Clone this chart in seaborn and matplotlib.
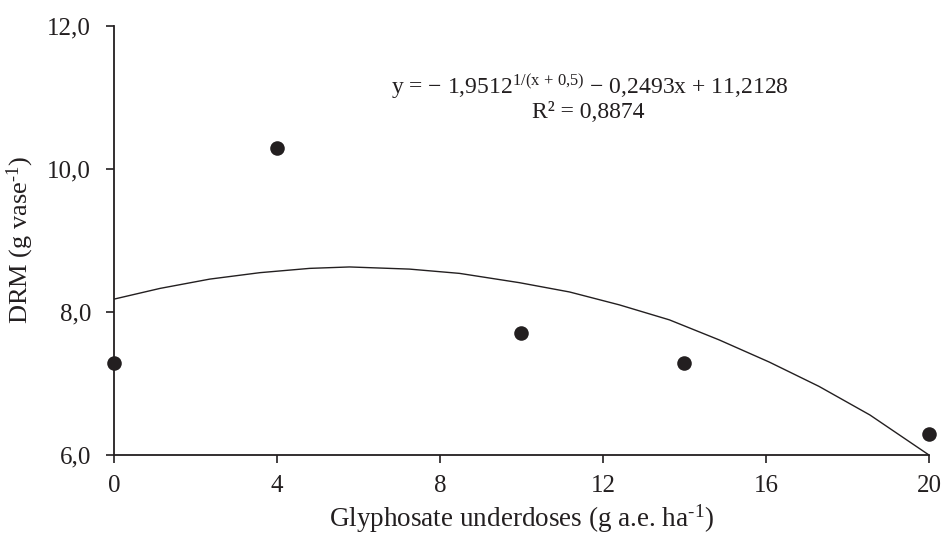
import numpy as np
import pandas as pd
import matplotlib
matplotlib.use("Agg")
import matplotlib.pyplot as plt
import seaborn as sns
from matplotlib.ticker import FuncFormatter

# Observed data
doses = [0, 4, 10, 14, 20]
drm = [7.28, 10.29, 7.70, 7.28, 6.30]

# Fitted curve
curve_x = [0, 1.13, 2.35, 3.58, 4.80, 5.78, 7.25, 8.48, 9.95, 11.18, 12.40,
           13.63, 14.85, 16.08, 17.30, 18.55, 20]
curve_y = [8.18, 8.33, 8.46, 8.55, 8.61, 8.63, 8.60, 8.54, 8.41, 8.28, 8.10,
           7.89, 7.61, 7.30, 6.96, 6.56, 6.00]

x_ticks = [0, 4, 8, 12, 16, 20]
y_ticks = [6.0, 8.0, 10.0, 12.0]

sns.set_theme(style="ticks")
plt.rcParams['font.family'] = ['Liberation Serif', 'DejaVu Serif']
plt.rcParams['mathtext.fontset'] = 'custom'
plt.rcParams['mathtext.rm'] = 'Liberation Serif'
plt.rcParams['mathtext.it'] = 'Liberation Serif:italic'

ink = "#231f20"
fig = plt.figure(figsize=(9.46, 5.37), dpi=100)
ax = fig.add_axes([0.1205, 0.1527, 0.8615, 0.7989])

pts = pd.DataFrame({"dose": doses, "drm": drm})
cur = pd.DataFrame({"x": curve_x, "y": curve_y})

sns.lineplot(data=cur, x="x", y="y", ax=ax, color=ink, linewidth=1.0)
sns.scatterplot(data=pts, x="dose", y="drm", ax=ax, color=ink, s=110,
                edgecolor=ink, linewidth=0, clip_on=False, zorder=5)

ax.set_xlim(0, 20)
ax.set_ylim(6, 12)
ax.set_xticks(x_ticks)
ax.set_yticks(y_ticks)
ax.yaxis.set_major_formatter(FuncFormatter(lambda v, p: f"{v:.1f}".replace(".", ",")))
ax.tick_params(axis="both", labelsize=18, colors=ink, length=5.5, width=1.2, direction="out")
ax.tick_params(axis="y", pad=11)
ax.tick_params(axis="x", pad=9)
for s in ["top", "right"]:
    ax.spines[s].set_visible(False)
for s in ["left", "bottom"]:
    ax.spines[s].set_color(ink)
    ax.spines[s].set_linewidth(1.3)

ax.set_xlabel("Glyphosate underdoses (g a.e. ha$^{\\mathregular{\u20101}}$)", fontsize=19.5, color=ink, labelpad=4)
ax.set_ylabel("DRM (g vase$^{\\mathregular{\u20101}}$)", fontsize=19, color=ink, labelpad=8)

fig.text(0.624, 0.838,
         "y = − 1,9512$^{\\mathregular{1/(x\\,+\\,0{,}5)}}$ − 0,2493x + 11,2128",
         ha="center", va="center", fontsize=17, color=ink)
fig.text(0.622, 0.790, "R² = 0,8874", ha="center", va="center", fontsize=17, color=ink)

fig.savefig("out.png", dpi=100)
